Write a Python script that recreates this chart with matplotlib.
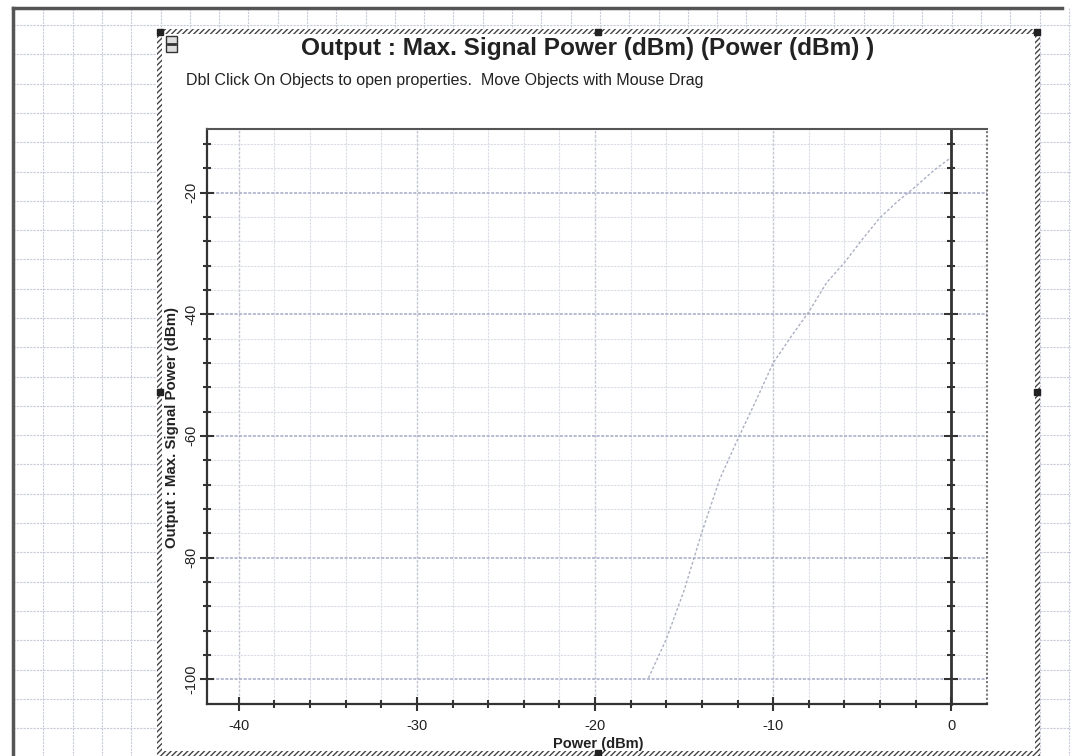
import matplotlib.pyplot as plt
import matplotlib.patches as mpatches
import numpy as np

plt.rcParams['font.family'] = ['Liberation Sans', 'DejaVu Sans']
plt.rcParams['axes.unicode_minus'] = False

# Data
power_in = [-17, -16, -15, -14, -13, -12, -11, -10, -9, -8, -7, -6, -5, -4, -3, -2, -1, 0]
max_signal = [-99.8, -93.4, -85.4, -75.8, -67.1, -60.6, -54.4, -48.0, -43.7, -39.6,
              -34.8, -31.5, -27.7, -24.1, -21.4, -19.0, -16.4, -14.2]
x_ticks = [-40, -30, -20, -10, 0]
y_ticks = [-100, -80, -60, -40, -20]

title = 'Output : Max. Signal Power (dBm) (Power (dBm) )'
hint = 'Dbl Click On Objects to open properties.  Move Objects with Mouse Drag'

W, H = 1071, 756
fig = plt.figure(figsize=(W / 100, H / 100), dpi=100)
fig.patch.set_facecolor('white')

# background "graph paper" canvas in pixel coordinates
bg = fig.add_axes([0, 0, 1, 1])
bg.set_xlim(0, W)
bg.set_ylim(H, 0)
bg.axis('off')
paper = '#c8cbdb'
for gx in np.arange(14, W, 29.3):
    bg.plot([gx, gx], [8, H], color=paper, lw=0.8, ls=(0, (2, 1)))
for gy in np.arange(25, H, 29.3):
    bg.plot([13, W], [gy, gy], color=paper, lw=0.8, ls=(0, (2, 1)))
bg.plot([13, 13], [8, H], color='#555555', lw=2.5)
bg.plot([13, 1062], [8, 8], color='#555555', lw=2.5)

# white panel with hatched border
px0, py0, px1, py1 = 160, 32, 1037, 753
bg.add_patch(mpatches.Rectangle((px0, py0), px1 - px0, py1 - py0, facecolor='white',
                                edgecolor='none', zorder=2))
for (rx, ry, rw, rh) in [(px0 - 3, py0 - 3, px1 - px0 + 6, 5), (px0 - 3, py1 - 2, px1 - px0 + 6, 5),
                         (px0 - 3, py0 - 3, 5, py1 - py0 + 6), (px1 - 2, py0 - 3, 5, py1 - py0 + 6)]:
    bg.add_patch(mpatches.Rectangle((rx, ry), rw, rh, facecolor='white', edgecolor='#444444',
                                    hatch='//////', lw=0, zorder=3))
for (hx, hy) in [(px0, py0), (598, py0), (px1, py0), (px0, 392), (px1, 392), (598, py1)]:
    bg.add_patch(mpatches.Rectangle((hx - 3, hy - 3), 6, 6, color='#222222', zorder=4))
# small window icon
bg.add_patch(mpatches.Rectangle((166, 36), 11, 16, facecolor='#dddddd', edgecolor='#333333',
                                lw=1, zorder=4))
bg.plot([168, 175], [44, 44], color='#333333', lw=2, zorder=5)

bg.text(588, 49, title, ha='center', va='center', fontsize=17.6, fontweight='bold',
        color='#222222', zorder=5)
bg.text(186, 80, hint, ha='left', va='center', fontsize=11.5, color='#222222', zorder=5)
bg.text(172, 428, 'Output : Max. Signal Power (dBm)', rotation=90, ha='center', va='center',
        fontsize=10.8, fontweight='bold', color='#222222', zorder=5)
bg.text(598, 744, 'Power (dBm)', ha='center', va='center', fontsize=10.5,
        fontweight='bold', color='#222222', zorder=5)

# main chart
left, right, top, bottom = 206.7, 987, 129.3, 703.5
ax = fig.add_axes([left / W, 1 - bottom / H, (right - left) / W, (bottom - top) / H])
ax.set_facecolor('white')
ax.set_xlim(-41.8, 2.0)
ax.set_ylim(-104.0, -9.6)

ax.set_xticks(x_ticks)
ax.set_xticks(np.arange(-40, 2, 2), minor=True)
ax.set_yticks(y_ticks)
ax.set_yticks(np.arange(-100, -9, 4), minor=True)

ax.grid(which='minor', color='#dadce6', lw=0.8, ls=(0, (2, 1)))
ax.grid(which='major', axis='y', color='#a4aac6', lw=1.1, ls=(0, (2, 1)))
ax.grid(which='major', axis='x', color='#c4c7d4', lw=1.0, ls=(0, (2, 1)))
ax.set_axisbelow(True)

ax.plot(power_in, max_signal, color='#aab0c2', lw=1.0, ls=(0, (2, 1.5)))

for s in ['left', 'bottom']:
    ax.spines[s].set_color('#333333')
    ax.spines[s].set_linewidth(1.6)
ax.spines['right'].set_position(('data', 0))
ax.spines['right'].set_color('#333333')
ax.spines['right'].set_linewidth(2.0)
ax.spines['top'].set_color('#555555')
ax.spines['top'].set_linestyle((0, (1, 1)))
ax.spines['top'].set_linewidth(1.5)
ax.plot([1, 1], [0, 1], transform=ax.transAxes, color='#777777', lw=1.5,
        ls=(0, (1, 1)), clip_on=False)

ax.tick_params(which='both', direction='inout', color='#333333', width=1.5)
ax.tick_params(which='major', length=10)
ax.tick_params(which='minor', length=6)
ax.tick_params(axis='y', which='both', left=True, right=True, labelright=False)
ax.tick_params(axis='y', labelrotation=90, pad=1, labelsize=10.5, labelcolor='#222222')
ax.tick_params(axis='x', pad=6, labelsize=10.5, labelcolor='#222222')
for lab in ax.get_yticklabels():
    lab.set_va('center')

fig.savefig('out.png', dpi=100)
